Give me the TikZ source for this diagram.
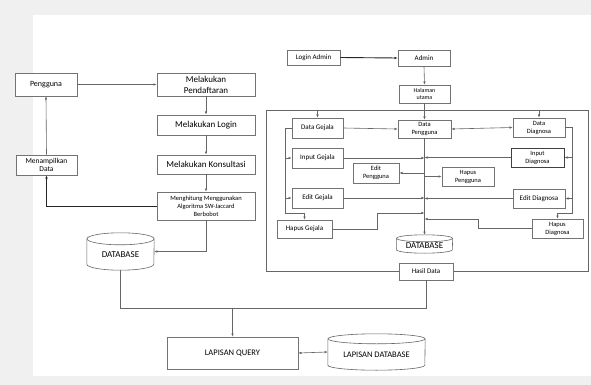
\documentclass[tikz,border=0pt]{standalone}
\usepackage{fontspec}
\setmainfont{Carlito}
\usetikzlibrary{arrows.meta}
\newcommand{\cylshape}[4]{%
  \draw[#4] ([yshift=-#3]#1.north west) -- ([yshift=#3]#1.south west)
    arc[start angle=180,end angle=360,x radius=#2,y radius=#3]
    -- ([yshift=-#3]#1.north east);
  \draw[#4] ([yshift=-#3]#1.north) ellipse[x radius=#2, y radius=#3];
}
\begin{document}
\begin{tikzpicture}[x=1pt,y=-1pt,
  box/.style={draw=black!55, line width=0.6pt, fill=white, align=center,
    inner sep=0pt, font=\fontsize{7}{8}\selectfont},
  cylnode/.style={draw=none, fill=none, align=center, inner sep=0pt},
  cylline/.style={draw=black!60, line width=0.6pt, fill=white},
  ln/.style={draw=black!60, line width=0.6pt},
  arr/.style={ln, -{Latex[length=3.2pt,width=2.6pt]}},
  darr/.style={ln, {Latex[length=3.2pt,width=2.6pt]}-{Latex[length=3.2pt,width=2.6pt]}},
  dark/.style={draw=black!85, line width=0.9pt}]
\useasboundingbox (0,0) rectangle (591,385);
\fill[black!6] (0,0) rectangle (591,385);
\fill[white] (33,15) rectangle (591,376);

% ---------- left part ----------
\node[box, minimum width=62pt, minimum height=23pt, font=\fontsize{8}{9}\selectfont] (peng) at (46,84.5) {Pengguna};
\node[box, minimum width=98pt, minimum height=23pt, font=\fontsize{9}{11}\selectfont] (daftar) at (206,84.5) {Melakukan\\Pendaftaran};
\node[box, minimum width=98pt, minimum height=20pt, font=\fontsize{9}{11}\selectfont] (login) at (206,125) {Melakukan Login};
\node[box, minimum width=98pt, minimum height=19pt, font=\fontsize{9}{11}\selectfont] (kons) at (206,164.5) {Melakukan Konsultasi};
\node[box, minimum width=98pt, minimum height=28pt, font=\fontsize{6.5}{8}\selectfont] (hitung) at (206,206) {Menghitung Menggunakan\\Algoritma SW-Jaccard\\Berbobot};
\node[box, minimum width=61pt, minimum height=20pt, font=\fontsize{7.5}{8.5}\selectfont] (tampil) at (46.5,165) {Menampilkan\\Data};
\node[cylnode, minimum width=67pt, minimum height=37pt] (db1) at (120.5,251.5) {};
\cylshape{db1}{33.5pt}{6pt}{cylline}
\node[font=\fontsize{9}{10}\selectfont, inner sep=0pt] at ([yshift=-3pt]db1.center) {DATABASE};

\node[box, minimum width=131pt, minimum height=32pt, font=\fontsize{8.5}{10}\selectfont] (query) at (232.5,353) {LAPISAN QUERY};
\node[cylnode, minimum width=97pt, minimum height=36pt] (lapdb) at (376.5,352) {};
\cylshape{lapdb}{48.5pt}{5pt}{cylline}
\node[font=\fontsize{8.5}{10}\selectfont, inner sep=0pt] at ([yshift=-3pt]lapdb.center) {LAPISAN DATABASE};

% ---------- right part ----------
\node[box, minimum width=53pt, minimum height=15pt, font=\fontsize{7}{8}\selectfont] (ladmin) at (313.5,57.5) {Login Admin};
\node[box, minimum width=52pt, minimum height=16pt] (admin) at (424,58) {Admin};
\node[box, minimum width=51pt, minimum height=18pt, font=\fontsize{6}{7}\selectfont] (halaman) at (424.5,94) {Halaman\\utama};

\draw[ln] (266,110) rectangle (588,271);

\node[box, minimum width=51pt, minimum height=20pt] (dgejala) at (317.5,128) {Data Gejala};
\node[box, minimum width=53pt, minimum height=18pt, font=\fontsize{6.5}{8}\selectfont] (dpeng) at (424.5,129) {Data\\Pengguna};
\node[box, minimum width=52pt, minimum height=19pt, font=\fontsize{6.5}{8}\selectfont] (ddiag) at (539,127.5) {Data\\Diagnosa};
\node[box, minimum width=51pt, minimum height=20pt] (igejala) at (317.5,158) {Input Gejala};
\node[box, minimum width=53pt, minimum height=19pt, font=\fontsize{6.5}{8}\selectfont, line width=0.9pt, draw=black!75] (idiag) at (537.5,157.5) {Input\\Diagnosa};
\node[box, minimum width=46pt, minimum height=20pt, font=\fontsize{6.5}{8}\selectfont] (epeng) at (376,173) {Edit\\Pengguna};
\node[box, minimum width=52pt, minimum height=19pt, font=\fontsize{6.5}{8}\selectfont] (hpeng) at (468,176.5) {Hapus\\Pengguna};
\node[box, minimum width=51pt, minimum height=20pt] (egejala) at (317.5,198) {Edit Gejala};
\node[box, minimum width=52pt, minimum height=19pt] (ediag) at (539,198.5) {Edit Diagnosa};
\node[box, minimum width=55pt, minimum height=18pt] (hgejala) at (304.5,229) {Hapus Gejala};
\node[box, minimum width=51pt, minimum height=19pt, font=\fontsize{6.5}{8}\selectfont] (hdiag) at (557.5,228.5) {Hapus\\Diagnosa};
\node[cylnode, minimum width=56pt, minimum height=18pt] (db2) at (424.5,244) {};
\cylshape{db2}{28pt}{3.5pt}{cylline}
\node[font=\fontsize{9}{10}\selectfont, inner sep=0pt] at ([yshift=-2pt]db2.center) {DATABASE};
\node[box, minimum width=54pt, minimum height=17pt] (hasil) at (426,271.5) {Hasil Data};

\coordinate (lb) at (285,213);
\coordinate (rb) at (572,213);
\coordinate (hgb) at (377,213);
\coordinate (hdb) at (478,219);
\coordinate (j) at (232.5,308);

% ---------- connectors left ----------
\draw[arr] (peng.east) -- (daftar.west);
\draw[arr] (daftar.south) -- (login.north);
\draw[arr] (login.south) -- (kons.north);
\draw[arr] (kons.south) -- (hitung.north);
\draw[arr, dark] (hitung.west) -| (tampil.south);
\draw[arr] (tampil.north) -- (peng.south);
\draw[arr] (hitung.south) |- (db1.east);
\draw[ln] (db1.south) |- (j);
\draw[ln] (hasil.south) |- (j);
\draw[arr] (j) -- (query.north);
\draw[darr] (query.east) -- (lapdb.west);

% ---------- connectors right ----------
\draw[arr, dark] (ladmin.east) -- (admin.west);
\draw[arr] (admin.south) -- (halaman.north);
\draw[arr] (halaman.south) -- (dpeng.north);
\draw[arr] (dgejala.north |- 0,110) -- (dgejala.north);
\draw[arr] (ddiag.north |- 0,110) -- (ddiag.north);
\draw[arr] (dgejala.east) -- (dpeng.west);
\draw[darr] (dpeng.east) -- (ddiag.west);
\draw[arr] (dpeng.south) -- (db2.north);
\draw[arr] (igejala.east) -- (igejala.east -| db2.north);
\draw[arr] (idiag.west) -- (idiag.west -| db2.north);
\draw[arr] (epeng.east -| db2.north) -- (epeng.east);
\draw[arr] (hpeng.west -| db2.north) -- (hpeng.west);
\draw[arr] (egejala.east) -- (egejala.east -| db2.north);
\draw[arr] (ediag.west) -- (ediag.west -| db2.north);
\draw[arr] (hgejala.east) -| (hgb) -- (hgb -| db2.north);
\draw[arr] (hdiag.west) -| (hdb) -- (hdb -| db2.north);
\draw[arr] (dgejala.west) -| (lb) -| (hgejala.north);
\draw[arr] (igejala.west -| lb) -- (igejala.west);
\draw[arr] (egejala.west -| lb) -- (egejala.west);
\draw[arr] (ddiag.east) -| (rb) -| (hdiag.north);
\draw[arr] (idiag.east -| rb) -- (idiag.east);
\draw[arr] (ediag.east -| rb) -- (ediag.east);
\end{tikzpicture}
\end{document}
